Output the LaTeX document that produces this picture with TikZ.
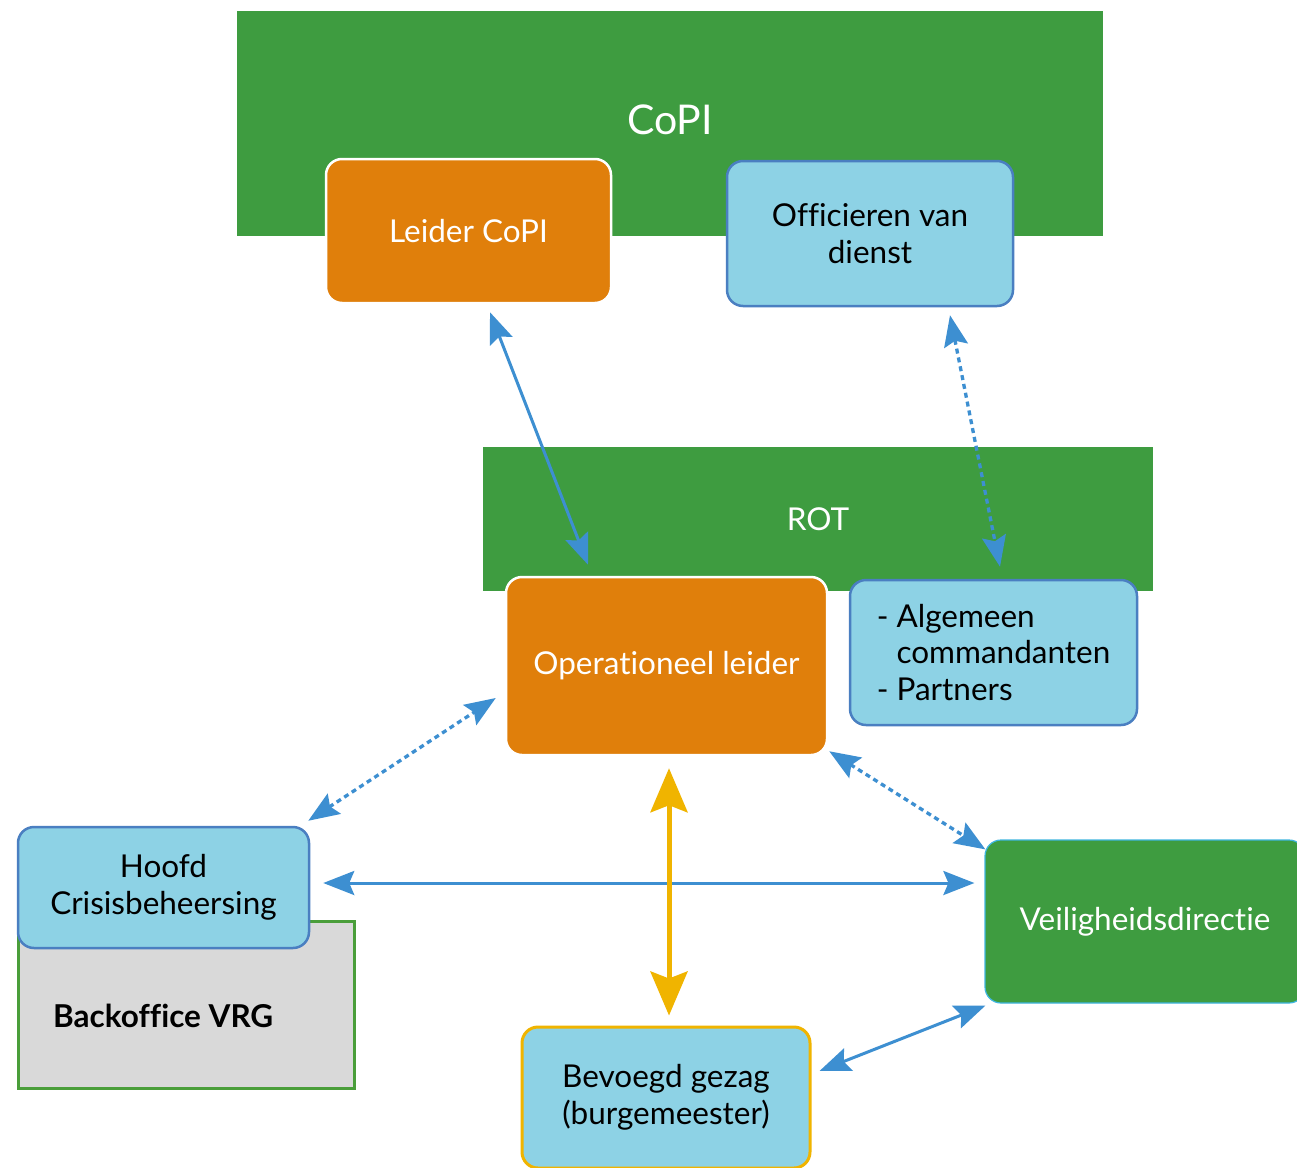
\documentclass[tikz,border=0pt]{standalone}
\usepackage{fontspec}
\setmainfont[Ligatures=NoCommon]{Lato}
\usetikzlibrary{arrows.meta,calc}
\definecolor{cgreen}{HTML}{3E9C40}
\definecolor{corange}{HTML}{E07F0B}
\definecolor{clight}{HTML}{8DD2E5}
\definecolor{cborder}{HTML}{4A7FC1}
\definecolor{carrow}{HTML}{3D8FD1}
\definecolor{cyellow}{HTML}{F0B400}
\definecolor{cgray}{HTML}{D9D9D9}
\definecolor{cgborder}{HTML}{4A9E3A}
\definecolor{cvborder}{HTML}{3FB6E0}
\tikzset{
  txt/.style={font=\fontsize{31.5}{36.5}\selectfont},
  band/.style={rectangle, fill=cgreen, inner sep=0pt, text=white, txt},
  rbox/.style={rectangle, rounded corners=16pt, inner sep=0pt, align=center, txt, line width=2.5pt},
  orangebox/.style={rbox, fill=corange, draw=white, text=white},
  bluebox/.style={rbox, fill=clight, draw=cborder, text=black},
  arrb/.style={draw=carrow, line width=3pt, arrows={Stealth[length=31pt,width=24pt,inset=5pt]-Stealth[length=31pt,width=24pt,inset=5pt]}},
  arrd/.style={arrb, line width=3.3pt, dash pattern=on 5pt off 4pt},
  arry/.style={draw=cyellow, line width=5pt, arrows={Stealth[length=44pt,width=37pt,inset=7pt]-Stealth[length=44pt,width=37pt,inset=7pt]}}
}
\begin{document}
\begin{tikzpicture}[x=1pt,y=-1pt]
\useasboundingbox (0,0) rectangle (1297,1167);
\clip (0,0) rectangle (1297,1167);
\fill[white] (0,0) rectangle (1297,1167);

% bands
\node[band, minimum width=866pt, minimum height=225pt] (copi) at (670,123.5) {};
\node[text=white, font=\fontsize{41}{46}\selectfont] (copit) at (670,120) {CoPI};
\node[band, minimum width=670pt, minimum height=144pt] (rot) at (818,519) {ROT};

% boxes
\node[orangebox, minimum width=285pt, minimum height=144pt] (leider) at (468.5,231) {Leider CoPI};
\node[bluebox, minimum width=286pt, minimum height=145pt] (officieren) at (870,233.5) {Officieren van\\dienst};
\node[orangebox, minimum width=321pt, minimum height=178pt] (opleider) at (666.5,666) {Operationeel leider};
\node[bluebox, minimum width=287pt, minimum height=145pt, align=left] (algemeen) at (993.5,652.5) {-~Algemeen\\\phantom{-~}commandanten\\-~Partners};

\node[rectangle, fill=cgray, draw=cgborder, line width=3pt, minimum width=336pt, minimum height=167pt] (backoffice) at (186,1004.5) {};
\node[anchor=west, font=\fontsize{31.5}{36}\selectfont\bfseries, inner sep=0pt] (backt) at (53,1016) {Backoffice VRG};
\node[bluebox, minimum width=291pt, minimum height=121pt] (hoofd) at (163.5,887.5) {Hoofd\\Crisisbeheersing};

\node[rbox, fill=cgreen, draw=cvborder, line width=1.2pt, text=white, minimum width=320pt, minimum height=163pt] (veilig) at (1145,921.5) {Veiligheidsdirectie};
\node[bluebox, draw=cyellow, line width=3pt, minimum width=288pt, minimum height=141pt] (bevoegd) at (666,1097.5) {Bevoegd gezag\\(burgemeester)};

% connectors
\draw[arrb] ($(leider.south)+(21.5,8)$) -- ($(opleider.north)+(-78.5,-11)$);
\draw[arrd] ($(officieren.south)+(80,8)$) -- ($(algemeen.north)+(6.5,-12)$);
\draw[arrd] ($(hoofd.north east)+(-2,-5)$) -- ($(opleider.west)+(-9,32)$);
\draw[arrd] ($(opleider.south east)+(1,-5)$) -- ($(veilig.north west)+(1,10)$);
\draw[arrb] ($(hoofd.east)+(13,-4.5)$) -- ($(veilig.west)+(-10,-38.5)$);
\draw[arry] ($(opleider.south)+(2.5,12)$) -- ($(bevoegd.north)+(3,-10)$);
\draw[arrb] ($(bevoegd.east)+(8,-26.5)$) -- ($(veilig.south west)+(1,2)$);
\end{tikzpicture}
\end{document}
